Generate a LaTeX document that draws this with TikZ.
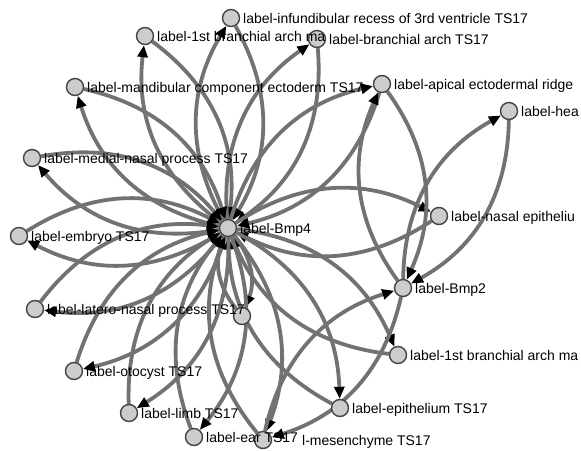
\documentclass[tikz,border=0pt]{standalone}
\usepackage{fontspec}
\setmainfont{Liberation Sans}
\usetikzlibrary{arrows.meta}
\pgfdeclarelayer{edges}
\pgfsetlayers{edges,main}
\definecolor{edgegray}{HTML}{727272}
\definecolor{nodefill}{HTML}{CCCCCC}
\definecolor{nodeline}{HTML}{444444}
\tikzset{
  vtx/.style={circle, fill=nodefill, draw=nodeline, line width=1.4pt, minimum size=17pt, inner sep=0pt},
  edge/.style={draw=edgegray, line width=3.8pt, bend left=30,
    -{Triangle[length=12pt,width=10pt,color=black]}},
  lbl/.style={anchor=base west, inner sep=0pt, font=\fontsize{14}{16}\selectfont}
}
\begin{document}
\begin{tikzpicture}[x=1pt,y=-1pt]
\useasboundingbox (0,0) rectangle (581,450);
\clip (0,0) rectangle (581,450);
% vertices
\node[vtx] (bmpfour) at (228,228) {};
\node[vtx] (infund) at (231,18) {};
\node[vtx] (fba) at (145,36) {};
\node[vtx] (ba) at (317,39) {};
\node[vtx] (mand) at (75,87) {};
\node[vtx] (apical) at (382,84) {};
\node[vtx] (head) at (509,111) {};
\node[vtx] (medial) at (32,158) {};
\node[vtx] (nasal) at (439,216) {};
\node[vtx] (embryo) at (19,236) {};
\node[vtx] (bmptwo) at (403,288) {};
\node[vtx] (latero) at (35,309) {};
\node[vtx] (unk) at (242,316) {};
\node[vtx] (fbama) at (398,355) {};
\node[vtx] (oto) at (74,371) {};
\node[vtx] (epi) at (340,408) {};
\node[vtx] (limb) at (129,413) {};
\node[vtx] (ear) at (194,437) {};
\node[vtx] (mes) at (263,440) {};
% edges
\begin{pgfonlayer}{edges}
\foreach \t in {infund,fba,ba,mand,apical,medial,nasal,embryo,latero,unk,fbama,oto,epi,limb,ear,mes}{
  \draw[edge] (bmpfour) to (\t);
  \draw[edge] (\t) to (bmpfour);
}
\draw[edge] (bmptwo) to (apical);
\draw[edge] (apical) to (bmptwo);
\draw[edge] (bmptwo) to (head);
\draw[edge] (head) to (bmptwo);
\draw[edge] (mes) to (bmptwo);
\draw[edge] (bmptwo) to (mes);
\end{pgfonlayer}
% labels
\node[lbl] (l-infund) at ([xshift=12pt,yshift=-5pt]infund.center) {label-infundibular recess of 3rd ventricle TS17};
\node[lbl] (l-fba) at ([xshift=12pt,yshift=-5pt]fba.center) {label-1st branchial arch ma};
\node[lbl] (l-ba) at ([xshift=12pt,yshift=-5pt]ba.center) {label-branchial arch TS17};
\node[lbl] (l-mand) at ([xshift=12pt,yshift=-5pt]mand.center) {label-mandibular component ectoderm TS17};
\node[lbl] (l-apical) at ([xshift=12pt,yshift=-5pt]apical.center) {label-apical ectodermal ridge};
\node[lbl] (l-head) at ([xshift=12pt,yshift=-5pt]head.center) {label-hea};
\node[lbl] (l-medial) at ([xshift=12pt,yshift=-5pt]medial.center) {label-medial-nasal process TS17};
\node[lbl] (l-nasal) at ([xshift=12pt,yshift=-5pt]nasal.center) {label-nasal epitheliu};
\node[lbl] (l-embryo) at ([xshift=12pt,yshift=-5pt]embryo.center) {label-embryo TS17};
\node[lbl] (l-bmpfour) at ([xshift=12pt,yshift=-5pt]bmpfour.center) {label-Bmp4};
\node[lbl] (l-bmptwo) at ([xshift=12pt,yshift=-5pt]bmptwo.center) {label-Bmp2};
\node[lbl] (l-latero) at ([xshift=12pt,yshift=-5pt]latero.center) {label-latero-nasal process TS17};
\node[lbl] (l-fbama) at ([xshift=12pt,yshift=-5pt]fbama.center) {label-1st branchial arch ma};
\node[lbl] (l-oto) at ([xshift=12pt,yshift=-5pt]oto.center) {label-otocyst TS17};
\node[lbl] (l-epi) at ([xshift=12pt,yshift=-5pt]epi.center) {label-epithelium TS17};
\node[lbl] (l-limb) at ([xshift=12pt,yshift=-5pt]limb.center) {label-limb TS17};
\node[lbl] (l-ear) at ([xshift=12pt,yshift=-5pt]ear.center) {label-ear TS17};
\node[lbl] (l-mes) at ([xshift=39pt,yshift=-5pt]mes.center) {l-mesenchyme TS17};
\end{tikzpicture}
\end{document}
